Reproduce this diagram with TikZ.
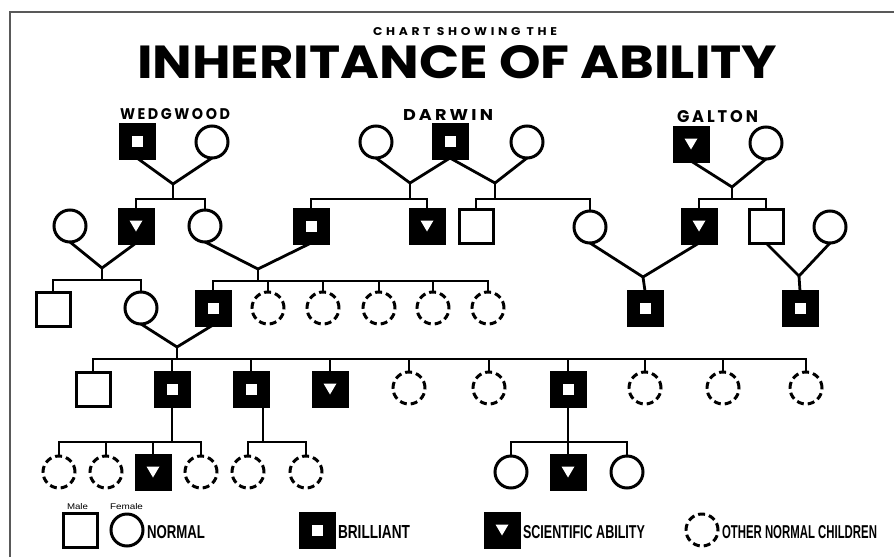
\documentclass[tikz,border=0pt]{standalone}
\usepackage{fontspec}
\usepackage{graphicx}
\usetikzlibrary{calc}
\newfontfamily\titlefont{Poppins}
\newfontfamily\spacedfont[LetterSpace=18]{Poppins}
\newfontfamily\widefont[LetterSpace=30]{Poppins}
\newfontfamily\legendfont{Liberation Sans}

\tikzset{
  lw/.style={line width=3pt},
  person/.style={lw, draw=black, inner sep=0pt, outer sep=0pt},
  male/.style={person, rectangle, minimum size=34pt, fill=white},
  female/.style={person, circle, minimum size=32pt, fill=white},
  otherchild/.style={female, dash pattern=on 7pt off 4pt},
  brill/.style={male, fill=black,
    path picture={\fill[white] ($(path picture bounding box.center)+(-5.5pt,-5.5pt)$) rectangle +(11pt,11pt);}},
  sci/.style={male, fill=black,
    path picture={\fill[white] ($(path picture bounding box.center)+(-6.5pt,5.5pt)$) -- +(13pt,0pt) -- +(6.5pt,-11pt) -- cycle;}},
  link/.style={line width=2.8pt, line cap=butt, line join=miter},
  label/.style={anchor=base west, inner sep=0pt, outer sep=0pt},
}

\begin{document}
\begin{tikzpicture}[x=1pt, y=-1pt]
\fill[white] (0,0) rectangle (894,557);
\useasboundingbox (0,0) rectangle (894,557);

% frame
\draw[line width=1.3pt, black!65] (10,557) -- (10,12) -- (894,12);

% headings
\node[label] (sub) at (373,35) {\resizebox{184pt}{8pt}{\widefont\bfseries CHART SHOWING THE}};
\node[label] (title) at (137,78) {\resizebox{640pt}{33pt}{\titlefont\bfseries INHERITANCE OF ABILITY}};
\node[label] (nw) at (120,119) {\resizebox{110pt}{11pt}{\spacedfont\bfseries WEDGWOOD}};
\node[label] (nd) at (403,120) {\resizebox{90pt}{11pt}{\spacedfont\bfseries DARWIN}};
\node[label] (ng) at (677,122) {\resizebox{81pt}{12pt}{\spacedfont\bfseries GALTON}};

% first generation
\node[brill]  (wg)  at (137,141) {};
\node[female] (wgw) at (212,142) {};
\node[female] (dw1) at (376,142) {};
\node[brill]  (dg)  at (450,141) {};
\node[female] (dw2) at (527,142) {};
\node[sci]    (gg)  at (691,144) {};
\node[female] (gw)  at (766,143) {};

% second generation
\node[female] (wsw)  at (70,226) {};
\node[sci]    (ws)   at (136,226) {};
\node[female] (wd)   at (205,226) {};
\node[brill]  (ds1)  at (311,226) {};
\node[sci]    (ds2)  at (427,226) {};
\node[male]   (ds3)  at (476,226) {};
\node[female] (dd)   at (590,227) {};
\node[sci]    (gs1)  at (699,226) {};
\node[male]   (gs2)  at (766,226) {};
\node[female] (gs2w) at (830,227) {};

% third generation
\node[male]       (c3a) at (53,309) {};
\node[female]     (c3b) at (141,308) {};
\node[brill]      (cd)  at (213,308) {};
\node[otherchild] (o2)  at (268,308) {};
\node[otherchild] (o3)  at (323,308) {};
\node[otherchild] (o4)  at (379,308) {};
\node[otherchild] (o5)  at (433,308) {};
\node[otherchild] (o6)  at (488,308) {};
\node[brill]      (fg)  at (645,308) {};
\node[brill]      (ld)  at (800,308) {};

% fourth generation
\node[male]       (k1)  at (93,389) {};
\node[brill]      (k2)  at (172,389) {};
\node[brill]      (k3)  at (251,389) {};
\node[sci]        (k4)  at (330,389) {};
\node[otherchild] (k5)  at (409,388) {};
\node[otherchild] (k6)  at (489,388) {};
\node[brill]      (k7)  at (568,389) {};
\node[otherchild] (k8)  at (645,388) {};
\node[otherchild] (k9)  at (723,388) {};
\node[otherchild] (k10) at (806,388) {};

% fifth generation
\node[otherchild] (m1) at (59,472) {};
\node[otherchild] (m2) at (106,472) {};
\node[sci]        (m3) at (153,472) {};
\node[otherchild] (m4) at (201,472) {};
\node[otherchild] (n1) at (248,472) {};
\node[otherchild] (n2) at (306,472) {};
\node[female]     (p1) at (511,472) {};
\node[sci]        (p2) at (568,472) {};
\node[female]     (p3) at (627,472) {};

% marriage junctions and sibling bars
\coordinate (jw)  at (173,184);  \coordinate (sw)  at (173,199);
\coordinate (jd1) at (410,183);  \coordinate (sd1) at (410,199);
\coordinate (jd2) at (495,183);  \coordinate (sd2) at (495,199);
\coordinate (jg)  at (732,187);  \coordinate (sg)  at (732,199);
\coordinate (j3a) at (102,268);  \coordinate (s3a) at (102,280);
\coordinate (j3b) at (258,269);  \coordinate (s3b) at (258,281);
\coordinate (j3c) at (643,277);
\coordinate (j3d) at (799,276);
\coordinate (j4)  at (177,347);  \coordinate (s4)  at (177,359);
\coordinate (s5a) at (172,442);
\coordinate (s5b) at (263,442);
\coordinate (s5c) at (568,442);

% first generation families
\draw[link] (wg.south) -- (jw) -- (wgw.south);
\draw[link] (jw) -- (sw);
\draw[link] (ws.north) |- (sw) -| (wd.north);

\draw[link] (dw1.south) -- (jd1) -- (dg.south);
\draw[link] (jd1) -- (sd1);
\draw[link] (ds1.north) |- (sd1) -| (ds2.north);

\draw[link] (dg.south) -- (jd2) -- (dw2.south);
\draw[link] (jd2) -- (sd2);
\draw[link] (ds3.north) |- (sd2) -| (dd.north);

\draw[link] (gg.south) -- (jg) -- (gw.south);
\draw[link] (jg) -- (sg);
\draw[link] (gs1.north) |- (sg) -| (gs2.north);

% second generation families
\draw[link] (wsw.south) -- (j3a) -- (ws.south);
\draw[link] (j3a) -- (s3a);
\draw[link] (c3a.north) |- (s3a) -| (c3b.north);

\draw[link] (wd.south) -- (j3b) -- (ds1.south);
\draw[link] (j3b) -- (s3b);
\draw[link] (cd.north) |- (s3b) -| (o6.north);
\foreach \c in {o2,o3,o4,o5} \draw[link] (\c.north) -- (\c.north |- s3b);

\draw[link] (dd.south) -- (j3c) -- (gs1.south);
\draw[link] (j3c) -- (fg.north);

\draw[link] (gs2.south) -- (j3d) -- (gs2w.south);
\draw[link] (j3d) -- (ld.north);

% third generation family
\draw[link] (c3b.south) -- (j4) -- (cd.south);
\draw[link] (j4) -- (s4);
\draw[link] (k1.north) |- (s4) -| (k10.north);
\foreach \c in {k2,k3,k4,k5,k6,k7,k8,k9} \draw[link] (\c.north) -- (\c.north |- s4);

% fourth generation families
\draw[link] (k2.south) -- (s5a);
\draw[link] (m1.north) |- (s5a) -| (m4.north);
\foreach \c in {m2,m3} \draw[link] (\c.north) -- (\c.north |- s5a);

\draw[link] (k3.south -| s5b) -- (s5b);
\draw[link] (n1.north) |- (s5b) -| (n2.north);

\draw[link] (k7.south) -- (s5c);
\draw[link] (p1.north) |- (s5c) -| (p3.north);
\draw[link] (p2.north) -- (s5c);

% key
\node[label] (lm) at (67,509) {\resizebox{21pt}{6pt}{\legendfont Male}};
\node[label] (lf) at (110,509) {\resizebox{33pt}{6pt}{\legendfont Female}};
\node[male]       (km) at (80,530) {};
\node[female]     (kf) at (127,530) {};
\node[brill]      (kb) at (317,530) {};
\node[sci]        (ks) at (502,530) {};
\node[otherchild] (ko) at (702,530) {};
\node[label] (tn) at (147,538) {\resizebox{58pt}{13pt}{\legendfont\bfseries NORMAL}};
\node[label] (tb) at (338,538) {\resizebox{72pt}{13pt}{\legendfont\bfseries BRILLIANT}};
\node[label] (ts) at (523,538) {\resizebox{122pt}{13pt}{\legendfont\bfseries SCIENTIFIC ABILITY}};
\node[label] (to) at (722,538) {\resizebox{155pt}{13pt}{\legendfont\bfseries OTHER NORMAL CHILDREN}};
\end{tikzpicture}
\end{document}
